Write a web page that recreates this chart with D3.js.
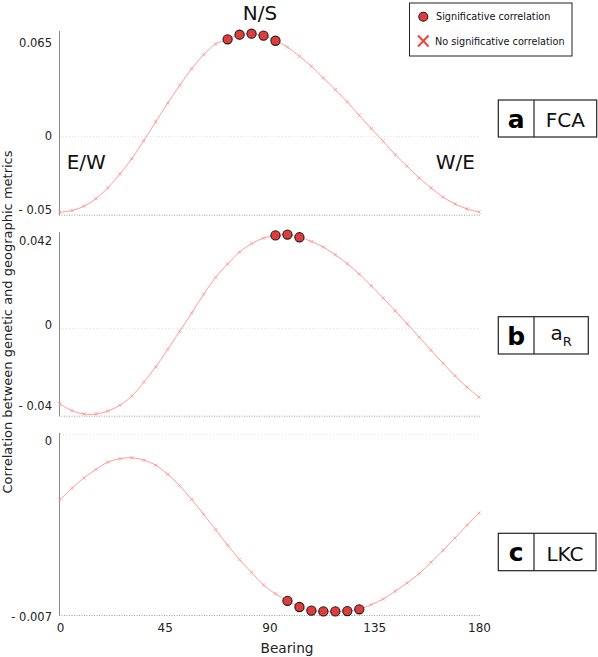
<!DOCTYPE html>
<html>
<head>
<meta charset="utf-8">
<script src="https://cdn.jsdelivr.net/npm/d3@7"></script>
<style>
  html, body { margin: 0; padding: 0; background: #fff; }
  svg { display: block; font-family: "DejaVu Sans", Verdana, sans-serif; }
</style>
</head>
<body>
<svg id="chart" width="598" height="657"></svg>
<script>
// ---------------- data ----------------
const bearings = [0, 5.14, 10.29, 15.43, 20.57, 25.71, 30.86, 36, 41.14, 46.29, 51.43, 56.57,
  61.71, 66.86, 72, 77.14, 82.29, 87.43, 92.57, 97.71, 102.86, 108, 113.14, 118.29, 123.43,
  128.57, 133.71, 138.86, 144, 149.14, 154.29, 159.43, 164.57, 169.71, 174.86, 180];

const fcaValues = [-0.0530, -0.0518, -0.0488, -0.0435, -0.0360, -0.0263, -0.0156, -0.0031, 0.0102,
  0.0232, 0.0355, 0.0471, 0.0569, 0.0643, 0.0676, 0.0708, 0.0715, 0.0702, 0.0666, 0.0622, 0.0557,
  0.0488, 0.0406, 0.0325, 0.0239, 0.0146, 0.0053, -0.0035, -0.0128, -0.0209, -0.0291, -0.0360,
  -0.0425, -0.0472, -0.0507, -0.0528];

const aRValues = [-0.0362, -0.0394, -0.0410, -0.0410, -0.0396, -0.0368, -0.0324, -0.0258, -0.0184,
  -0.0100, -0.0014, 0.0073, 0.0163, 0.0244, 0.0308, 0.0365, 0.0405, 0.0432, 0.0445, 0.0449, 0.0436,
  0.0416, 0.0389, 0.0352, 0.0309, 0.0260, 0.0204, 0.0145, 0.0084, 0.0022, -0.0042, -0.0105,
  -0.0167, -0.0227, -0.0282, -0.0329];

const lkcValues = [-0.00254, -0.00210, -0.00170, -0.00137, -0.00109, -0.00096, -0.00092, -0.00101,
  -0.00121, -0.00156, -0.00200, -0.00253, -0.00311, -0.00370, -0.00430, -0.00486, -0.00535,
  -0.00584, -0.00618, -0.00645, -0.00669, -0.00683, -0.00686, -0.00686, -0.00685, -0.00678,
  -0.00660, -0.00638, -0.00608, -0.00576, -0.00540, -0.00496, -0.00450, -0.00402, -0.00353, -0.00306];

// bearings at which the correlation is significant
const fcaSignificant = [72, 77.14, 82.29, 87.43, 92.57];
const aRSignificant = [92.57, 97.71, 102.86];
const lkcSignificant = [97.71, 102.86, 108, 113.14, 118.29, 123.43, 128.57];

const xTickValues = [0, 45, 90, 135, 180];
const fcaTicks = [0.065, 0, -0.05];
const fcaTickLabels = ["0.065", "0", "- 0.05"];
const aRTicks = [0.042, 0, -0.04];
const aRTickLabels = ["0.042", "0", "- 0.04"];
const lkcTicks = [0, -0.007];
const lkcTickLabels = ["0", "- 0.007"];

const panelLetters = ["a", "b", "c"];
const panelNames = ["FCA", "aR", "LKC"];

// ---------------- layout ----------------
const svg = d3.select("#chart");
const LINE = "#ff9090";
const DOT_FILL = "#e03c3c";

const x = d3.scaleLinear().domain([0, 180]).range([60, 479]);

const panels = [
  { values: fcaValues, sig: fcaSignificant, ticks: fcaTicks, labels: fcaTickLabels,
    labelShift: [0, 0, 2], domain: [-0.0547, 0.0727], range: [214.7, 32], box: [100, 137, 596.7] },
  { values: aRValues, sig: aRSignificant, ticks: aRTicks, labels: aRTickLabels,
    labelShift: [0, -4, -6], domain: [-0.0418, 0.0455], range: [415.7, 233.3], box: [316.7, 354, 588.3] },
  { values: lkcValues, sig: lkcSignificant, ticks: lkcTicks, labels: lkcTickLabels,
    labelShift: [7, 2], domain: [-0.0070, 0], range: [615, 434], box: [533.3, 570.7, 596] }
];

panels.forEach((p, i) => {
  const y = d3.scaleLinear().domain(p.domain).range(p.range);
  const g = svg.append("g");

  // zero gridline (dotted, faint)
  g.append("line")
    .attr("x1", x(0)).attr("x2", x(180))
    .attr("y1", Math.round(y(0)) + 0.5).attr("y2", Math.round(y(0)) + 0.5)
    .attr("stroke", "#e2e2e2").attr("stroke-width", 1).attr("stroke-dasharray", "1,2");

  // bottom axis (dotted)
  g.append("line")
    .attr("x1", x(0) - 1).attr("x2", x(180) + 1)
    .attr("y1", p.range[0] + 0.5).attr("y2", p.range[0] + 0.5)
    .attr("stroke", "#a0a0a0").attr("stroke-width", 1).attr("stroke-dasharray", "1,1.5");

  // y axis
  const yAxis = d3.axisLeft(y).tickValues(p.ticks).tickSize(0).tickPadding(7)
    .tickFormat((d, j) => p.labels[j]);
  const ya = g.append("g").attr("transform", `translate(${x(0) - 1},0)`).call(yAxis);
  ya.select(".domain").attr("stroke", "#8a8a8a").attr("d", `M0.5,${p.range[1] - 1}V${p.range[0] + 0.5}`);
  ya.selectAll("text").attr("font-size", 11.5).attr("fill", "#222")
    .attr("font-family", "DejaVu Sans, Verdana, sans-serif")
    .attr("transform", (d, j) => `translate(0,${p.labelShift[j]})`);

  // curve
  const line = d3.line().x((d, j) => x(bearings[j])).y(d => y(d)).curve(d3.curveCatmullRom);
  g.append("path").datum(p.values).attr("d", line)
    .attr("fill", "none").attr("stroke", LINE).attr("stroke-width", 0.9);

  // small x markers
  const s = 1.6;
  g.selectAll(".mk").data(p.values).enter().append("path")
    .attr("d", (d, j) => {
      const cx = x(bearings[j]), cy = y(d);
      return `M${cx - s},${cy - s}L${cx + s},${cy + s}M${cx - s},${cy + s}L${cx + s},${cy - s}`;
    })
    .attr("stroke", LINE).attr("stroke-width", 0.8).attr("fill", "none");

  // significant dots
  g.selectAll(".dot").data(p.sig).enter().append("circle")
    .attr("cx", b => x(b))
    .attr("cy", b => y(p.values[bearings.indexOf(b)]))
    .attr("r", 4.6)
    .attr("fill", DOT_FILL).attr("stroke", "#1e1e1e").attr("stroke-width", 1.1);

  // panel label box
  const [by0, by1, bx1] = p.box;
  const bx0 = 498.3, bdiv = 534;
  const bg = svg.append("g");
  bg.append("rect").attr("x", bx0).attr("y", by0).attr("width", bx1 - bx0).attr("height", by1 - by0)
    .attr("fill", "#fff").attr("stroke", "#222").attr("stroke-width", 1.2);
  bg.append("line").attr("x1", bdiv).attr("x2", bdiv).attr("y1", by0).attr("y2", by1)
    .attr("stroke", "#222").attr("stroke-width", 1.2);
  const base = by1 - 10;
  bg.append("text").attr("x", (bx0 + bdiv) / 2).attr("y", base + 0.5)
    .attr("text-anchor", "middle").attr("font-weight", "bold").attr("font-size", 25)
    .attr("fill", "#000").text(panelLetters[i]);
  const nameX = (bdiv + bx1) / 2;
  if (panelNames[i] === "aR") {
    const t = bg.append("text").attr("x", nameX).attr("y", base - 4).attr("text-anchor", "middle")
      .attr("font-size", 20).attr("fill", "#111");
    t.append("tspan").text("a");
    t.append("tspan").attr("font-size", 13).attr("dy", 6).text("R");
  } else {
    bg.append("text").attr("x", nameX).attr("y", base).attr("text-anchor", "middle")
      .attr("font-size", 20).attr("fill", "#111").text(panelNames[i]);
  }
});

// x axis labels (bottom panel)
const xAxis = d3.axisBottom(x).tickValues(xTickValues).tickSize(0).tickPadding(8);
const xa = svg.append("g").attr("transform", "translate(0,615)").call(xAxis);
xa.select(".domain").remove();
xa.selectAll("text").attr("font-size", 12).attr("fill", "#222")
  .attr("font-family", "DejaVu Sans, Verdana, sans-serif");

// axis titles
svg.append("text").attr("x", 287).attr("y", 653).attr("text-anchor", "middle")
  .attr("font-size", 13.7).attr("fill", "#222").text("Bearing");
svg.append("text").attr("transform", "translate(12,322) rotate(-90)").attr("text-anchor", "middle")
  .attr("font-size", 13).attr("fill", "#222")
  .text("Correlation between genetic and geographic metrics");

// direction labels
svg.append("text").attr("x", 260).attr("y", 20).attr("text-anchor", "middle")
  .attr("font-size", 20).attr("fill", "#111").text("N/S");
svg.append("text").attr("x", 66.7).attr("y", 168.5)
  .attr("font-size", 20).attr("fill", "#111").text("E/W");
svg.append("text").attr("x", 475).attr("y", 168.5).attr("text-anchor", "end")
  .attr("font-size", 20).attr("fill", "#111").text("W/E");

// legend
const lg = svg.append("g");
lg.append("rect").attr("x", 409.5).attr("y", 3).attr("width", 162.5).attr("height", 53)
  .attr("fill", "#fff").attr("stroke", "#222").attr("stroke-width", 1);
lg.append("circle").attr("cx", 423.3).attr("cy", 16.7).attr("r", 4.5)
  .attr("fill", DOT_FILL).attr("stroke", "#1e1e1e").attr("stroke-width", 1.1);
lg.append("path").attr("d", "M418,35.5L428.6,46.5M418,46.5L428.6,35.5")
  .attr("stroke", "#e8473f").attr("stroke-width", 2).attr("fill", "none");
lg.append("text").attr("x", 436).attr("y", 20.3).attr("font-size", 9.7).attr("fill", "#111")
  .text("Significative correlation");
lg.append("text").attr("x", 435).attr("y", 44.5).attr("font-size", 9.7).attr("fill", "#111")
  .text("No significative correlation");
</script>
</body>
</html>
